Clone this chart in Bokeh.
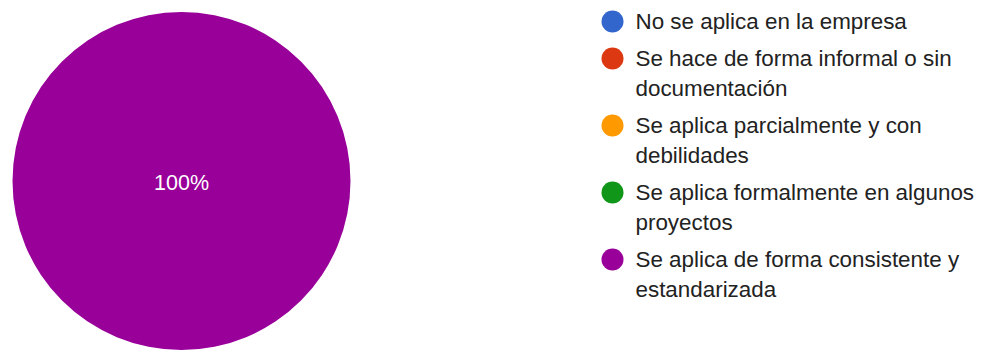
import math
from bokeh.plotting import figure
from bokeh.models import Range1d, ColumnDataSource
from bokeh.core.properties import value
from bokeh.embed import file_html
from bokeh.resources import INLINE

# ---- data ----
categories = [
    ["No se aplica en la empresa"],
    ["Se hace de forma informal o sin", "documentación"],
    ["Se aplica parcialmente y con", "debilidades"],
    ["Se aplica formalmente en algunos", "proyectos"],
    ["Se aplica de forma consistente y", "estandarizada"],
]
values = [0, 0, 0, 0, 100]
colors = ["#3366cc", "#dc3912", "#ff9900", "#109618", "#990099"]

W, H = 981, 350
FONT = "Liberation Sans"

p = figure(width=W, height=H, output_backend="svg", toolbar_location=None,
           x_range=Range1d(0, W), y_range=Range1d(H, 0),
           min_border=0, min_border_left=0, min_border_right=0,
           min_border_top=0, min_border_bottom=0)
p.axis.visible = False
p.grid.visible = False
p.outline_line_color = None
p.background_fill_color = "white"

# ---- pie ----
cx, cy, R = 181, 180.5, 169
total = sum(values)
starts, ends = [], []
acc = 0.0
for v in values:
    a0 = -math.pi / 2 + 2 * math.pi * acc / total
    acc += v
    a1 = -math.pi / 2 + 2 * math.pi * acc / total
    starts.append(a0)
    ends.append(a1)

nz = [i for i, v in enumerate(values) if v > 0]
full = [i for i in nz if values[i] >= total]
part = [i for i in nz if values[i] < total]
if full:
    p.circle(x=[cx] * len(full), y=[cy] * len(full), radius=R, radius_units="screen",
             fill_color=[colors[i] for i in full], line_color=None)
if part:
    src = ColumnDataSource(dict(
        x=[cx] * len(part), y=[cy] * len(part),
        s=[starts[i] for i in part], e=[ends[i] for i in part],
        c=[colors[i] for i in part]))
    p.wedge(x="x", y="y", radius=R, radius_units="screen",
            start_angle="s", end_angle="e", fill_color="c",
            line_color="white", line_width=1, direction="anticlock", source=src)

lx, ly, lt = [], [], []
for i in nz:
    pct = 100.0 * values[i] / total
    if pct >= 99.999:
        lx.append(cx); ly.append(cy + 2)
    else:
        mid = (starts[i] + ends[i]) / 2
        lx.append(cx + 0.6 * R * math.cos(mid)); ly.append(cy + 0.6 * R * math.sin(mid))
    lt.append(f"{pct:.0f}%" if abs(pct - round(pct)) < 0.05 else f"{pct:.1f}%")
p.text(x=lx, y=ly, text=lt, text_color="white", text_font=value(FONT),
       text_font_size="21.5px", text_align="center", text_baseline="middle")

# ---- legend ----
mx, tx = 612, 635
y = 21
line_h, gap = 30, 37
mxs, mys, txs, tys, tts = [], [], [], [], []
for lines, col in zip(categories, colors):
    mxs.append(mx); mys.append(y)
    for k, ln in enumerate(lines):
        txs.append(tx); tys.append(y + k * line_h); tts.append(ln)
    y += line_h * (len(lines) - 1) + gap
p.scatter(x=mxs, y=mys, size=22, marker="circle", fill_color=colors, line_color=None)
p.text(x=txs, y=tys, text=tts, text_color="#222222", text_font=value(FONT),
       text_font_size="22.4px", text_align="left", text_baseline="middle")

open("out.html", "w").write(file_html(p, INLINE))
